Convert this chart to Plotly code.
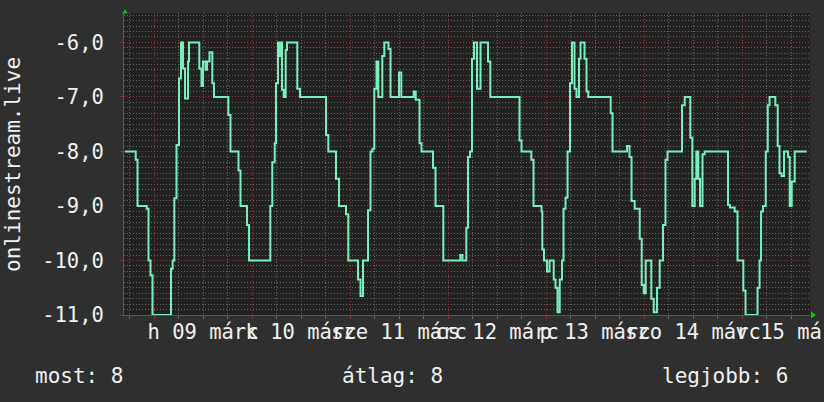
import pandas as pd
import plotly.graph_objects as go

# ---- data (hours relative to 2015-03-09 00:00, value) ----
base_time = "2015-03-09 00:00"
hours = [
    -7.10, -4.48, -4.04, -1.79, -1.35, -0.86, -0.37, 4.16, 4.58, 4.97, 5.51, 6.12, 6.61,
    7.10, 7.59, 8.33, 8.57, 11.09, 11.63, 12.00, 12.61, 12.98, 13.59, 14.28, 14.69,
    18.20, 18.73, 20.69, 21.18, 22.78, 23.27, 28.48, 28.97, 29.56, 29.88, 30.37, 30.78,
    30.98, 31.35, 31.76, 32.25, 32.57, 35.09, 35.76, 42.12, 42.69, 44.57, 45.31, 47.02,
    47.58, 49.96, 50.57, 51.18, 52.41, 53.02, 53.51, 53.95, 54.49, 54.93, 55.91, 56.40,
    57.43, 57.92, 60.00, 60.56, 63.60, 64.09, 65.02, 65.51, 68.33, 68.94, 70.85, 75.01,
    75.55, 76.48, 76.90, 77.39, 77.88, 78.37, 79.10, 79.96, 81.80, 82.36, 89.51, 90.00,
    92.40, 92.94, 94.90, 95.10, 95.51, 96.24, 96.86, 97.89, 98.33, 98.82, 99.36, 99.92,
    100.29, 100.78, 101.27, 101.88, 102.37, 102.98, 103.47, 104.08, 104.45, 105.43,
    105.92, 106.36, 111.84, 112.29, 115.84, 116.45, 116.94, 117.72, 118.95, 119.44,
    119.93, 120.42, 121.79, 122.38, 123.18, 123.84, 124.65, 125.26, 125.75, 129.31,
    129.97, 131.34, 131.83, 132.42, 132.81, 133.30, 133.71, 134.32, 134.86, 140.57,
    141.06, 142.21, 142.90, 144.32, 144.86, 147.80, 148.29, 148.66, 149.15, 149.81,
    150.30, 150.74, 152.16, 152.74, 153.18, 153.67, 154.29, 155.27, 155.68, 156.17,
    156.91, 159.85,
]
values = [
    -8.0, -8.15, -9.0, -9.05, -10.0, -10.27, -11.0, -10.15, -10.0, -8.86, -7.88, -6.66, -6.0,
    -6.48, -7.03, -6.35, -6.0, -6.48, -6.8, -6.35, -6.5, -6.35, -6.18, -6.75, -7.0,
    -7.33, -8.0, -8.35, -9.0, -9.35, -10.0, -9.0, -8.2, -7.85, -6.75, -6.0, -6.25,
    -6.0, -6.87, -7.0, -6.14, -6.0, -6.85, -7.0, -7.7, -8.0, -8.5, -9.0, -9.15,
    -10.0, -10.35, -10.65, -10.0, -9.08, -8.0, -7.95, -6.85, -6.35, -7.0, -6.25, -6.0,
    -6.12, -7.0, -6.55, -7.0, -6.9, -7.05, -7.85, -8.0, -8.3, -9.0, -10.0, -9.9,
    -10.0, -9.4, -8.1, -8.0, -6.3, -6.0, -6.85, -6.0, -6.35, -7.0, -7.8, -8.0,
    -8.15, -9.0, -9.1, -9.8, -10.0, -10.2, -10.0, -10.35, -10.5, -10.95, -10.35, -10.0,
    -9.05, -8.85, -8.0, -6.75, -6.0, -6.85, -7.0, -6.3, -6.0, -6.3,
    -6.9, -7.0, -7.3, -8.0, -7.9, -8.1, -8.91, -9.05, -9.6, -10.45,
    -10.6, -10.0, -10.7, -10.95, -10.5, -10.0, -9.35, -8.15, -8.0, -7.15,
    -7.0, -7.75, -9.0, -8.5, -8.0, -8.5, -9.0, -8.05, -8.0, -8.98,
    -9.03, -9.1, -10.0, -10.55, -11.0, -10.5, -10.0, -9.1, -9.0, -8.0,
    -7.15, -7.0, -7.15, -7.9, -8.4, -8.45, -8.0, -8.1, -9.0, -8.55,
    -8.0, -8.0,
]

day_ticks = ["2015-03-09", "2015-03-10", "2015-03-11", "2015-03-12",
             "2015-03-13", "2015-03-14", "2015-03-15"]
day_labels = ["h 09 márc", "k 10 márc", "sze 11 márc", "cs 12 márc",
              "p 13 márc", "szo 14 márc", "v 15 márc"]
y_ticks = [-11, -10, -9, -8, -7, -6]
y_labels = ["-11,0", "-10,0", "-9,0", "-8,0", "-7,0", "-6,0"]
x_range_hours = [-7.35, 160.65]
y_range = [-11.0, -5.46]

y_title = "onlinestream.live"
legend_texts = ["most: 8", "átlag: 8", "legjobb: 6"]

# ---- build ----
t0 = pd.Timestamp(base_time)
times = [t0 + pd.Timedelta(hours=h) for h in hours]
x_range = [t0 + pd.Timedelta(hours=h) for h in x_range_hours]

FONT = "DejaVu Sans Mono"
TXT = "#f0f0f0"
PAPER = "#2f2f2f"
PLOT = "#222222"
LINE = "#78f0be"
MAJOR = "rgba(150,45,45,0.85)"
MINOR = "rgba(120,120,120,0.8)"
DASH = "1px,2px"

fig = go.Figure()
fig.add_trace(go.Scatter(
    x=times, y=values, mode="lines", line=dict(color=LINE, width=2, shape="hv"),
    hoverinfo="skip", showlegend=False,
))

fig.update_layout(
    width=824, height=402,
    margin=dict(l=124, r=14, t=13, b=87),
    paper_bgcolor=PAPER, plot_bgcolor=PLOT,
    font=dict(family=FONT, size=20.5, color=TXT),
    showlegend=False,
)

fig.update_xaxes(
    type="date", range=x_range, automargin=False,
    tickmode="array", tickvals=day_ticks, ticktext=day_labels,
    tickangle=0, ticklabelshift=49, ticklabeloverflow="allow",
    ticklabelstandoff=-5,
    ticks="outside", ticklen=3, tickcolor=MAJOR,
    showgrid=True, gridcolor=MAJOR, griddash=DASH, gridwidth=1,
    minor=dict(dtick=6 * 3600 * 1000, tick0="2015-03-09", showgrid=True,
               gridcolor=MINOR, griddash=DASH, gridwidth=1,
               ticks="outside", ticklen=3, tickcolor=MINOR),
    showline=True, linecolor="#555555", linewidth=1,
    zeroline=False, tickfont=dict(family=FONT, size=20.5, color=TXT),
)
fig.update_yaxes(
    range=y_range, automargin=False,
    tickmode="array", tickvals=y_ticks, ticktext=y_labels,
    ticks="outside", ticklen=3, tickcolor=MAJOR, ticklabelstandoff=12,
    showgrid=True, gridcolor=MAJOR, griddash=DASH, gridwidth=1,
    minor=dict(dtick=0.1, tick0=-11, showgrid=True, gridcolor=MINOR,
               griddash=DASH, gridwidth=1),
    showline=True, linecolor="#555555", linewidth=1,
    zeroline=False, tickfont=dict(family=FONT, size=20.5, color=TXT),
)

# y title
fig.add_annotation(text=y_title, xref="paper", yref="paper", x=-0.1618, y=0.497,
                   textangle=-90, showarrow=False, xanchor="center", yanchor="middle",
                   font=dict(family=FONT, size=21, color=TXT))
# legend line
fig.add_annotation(text=legend_texts[0], xref="paper", yref="paper", x=-0.1327, y=-0.202,
                   showarrow=False, xanchor="left", yanchor="middle",
                   font=dict(family=FONT, size=21, color=TXT))
fig.add_annotation(text=legend_texts[1], xref="paper", yref="paper", x=0.3914, y=-0.202,
                   showarrow=False, xanchor="center", yanchor="middle",
                   font=dict(family=FONT, size=21, color=TXT))
fig.add_annotation(text=legend_texts[2], xref="paper", yref="paper", x=0.9708, y=-0.202,
                   showarrow=False, xanchor="right", yanchor="middle",
                   font=dict(family=FONT, size=21, color=TXT))

# axis arrows
fig.add_shape(type="path", xref="paper", yref="paper",
              path="M -0.0022 0.9983 L 0.0051 0.9983 L 0.0015 1.0132 Z",
              fillcolor="#00cc00", line=dict(width=0))
fig.add_shape(type="path", xref="paper", yref="paper",
              path="M 1.0015 0.0116 L 1.0015 -0.0116 L 1.0087 0 Z",
              fillcolor="#00cc00", line=dict(width=0))

fig.write_html(
    "out.html",
    config={"displayModeBar": False},
    post_script="document.body.style.margin='0';document.body.style.background='#2f2f2f';",
)
